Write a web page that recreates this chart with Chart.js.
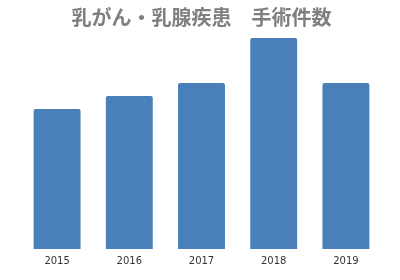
<!DOCTYPE html>
<html>
<head>
<meta charset="utf-8">
<script src="https://cdn.jsdelivr.net/npm/chart.js@4"></script>
<style>
  body { margin: 0; background: #fff; }
</style>
</head>
<body>
<canvas id="myChart" width="400" height="280"></canvas>
<script>
// chart values
const years = ['2015', '2016', '2017', '2018', '2019'];
const surgeries = [140, 153, 166, 211, 166];
const titleText = '乳がん・乳腺疾患　手術件数';

document.addEventListener("DOMContentLoaded", function () {
    const ctx = document.getElementById('myChart').getContext('2d');
    new Chart(ctx, {
        type: 'bar',
        data: {
            labels: years,
            datasets: [{
                data: surgeries,
                backgroundColor: '#4a80ba',
                borderRadius: { topLeft: 2, topRight: 2 },
                borderSkipped: 'bottom',
                categoryPercentage: 0.65,
                barPercentage: 1
            }]
        },
        options: {
            responsive: false,
            animation: false,
            layout: { padding: { left: 21, right: 18, top: 5, bottom: 7 } },
            plugins: {
                legend: { display: false },
                tooltip: { enabled: false },
                title: {
                    display: true,
                    text: titleText,
                    color: '#7f7f7f',
                    font: { family: '"Noto Sans CJK JP"', size: 20, weight: 'bold' },
                    padding: { top: 0, bottom: 6 }
                }
            },
            scales: {
                x: {
                    grid: { display: false, drawTicks: false },
                    border: { display: false },
                    ticks: {
                        color: '#333',
                        font: { family: '"DejaVu Sans"', size: 10 },
                        padding: 6
                    }
                },
                y: {
                    display: false,
                    min: 0,
                    max: 214
                }
            }
        }
    });
});
</script>
</body>
</html>
